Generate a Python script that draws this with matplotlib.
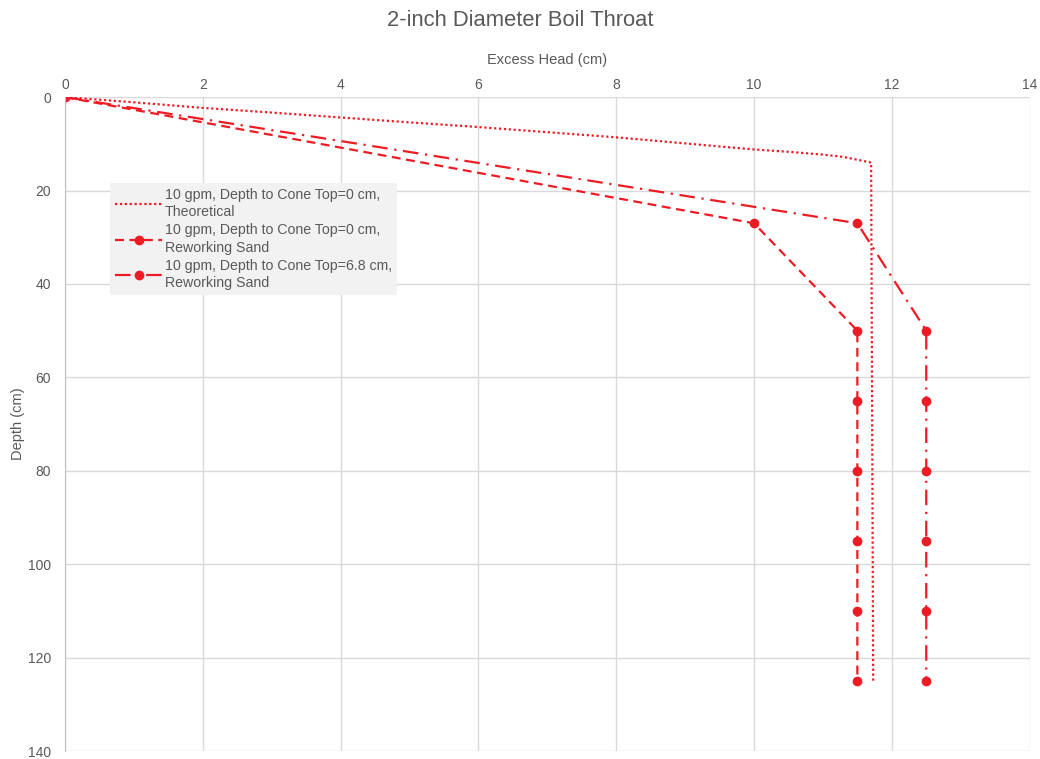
import matplotlib.pyplot as plt

# theoretical curve
theo_x = [0, 1, 2, 3, 4, 5, 6, 7, 8, 9, 10, 10.5, 11, 11.3, 11.5, 11.7, 11.73]
theo_y = [0, 1.1, 2.3, 3.3, 4.35, 5.4, 6.4, 7.5, 8.6, 9.9, 11.2, 11.7, 12.3, 12.8, 13.4, 14.0, 125]

rs0_x = [0, 10, 11.5, 11.5, 11.5, 11.5, 11.5, 11.5]
rs0_y = [0, 27, 50, 65, 80, 95, 110, 125]

rs68_x = [0, 11.5, 12.5, 12.5, 12.5, 12.5, 12.5, 12.5]
rs68_y = [0, 27, 50, 65, 80, 95, 110, 125]

labels = ['10 gpm, Depth to Cone Top=0 cm,\nTheoretical',
          '10 gpm, Depth to Cone Top=0 cm,\nReworking Sand',
          '10 gpm, Depth to Cone Top=6.8 cm,\nReworking Sand']

red = '#ED1C24'
gray = '#595959'

def main():
    plt.rcParams['font.family'] = ['Liberation Sans', 'DejaVu Sans']
    fig = plt.figure(figsize=(10.4, 7.59), dpi=100)
    ax = fig.add_axes([0.0625, 0.0105, 0.9275, 0.8615])

    ax.plot(theo_x, theo_y, color=red, linestyle=(0, (1, 1.2)), linewidth=1.6, label=labels[0])
    ax.plot(rs0_x, rs0_y, color=red, linestyle=(0, (4, 2.5)), linewidth=1.6,
            marker='o', markersize=6, label=labels[1])
    ax.plot(rs68_x, rs68_y, color=red, linestyle=(0, (7, 3, 1, 3)), linewidth=1.6,
            marker='o', markersize=6, label=labels[2])

    ax.set_xlim(0, 14)
    ax.set_ylim(140, 0)
    ax.set_xticks(range(0, 15, 2))
    ax.set_yticks(range(0, 141, 20))
    ax.xaxis.tick_top()
    ax.xaxis.set_label_position('top')
    ax.set_xlabel('Excess Head (cm)', fontsize=10.5, color=gray, labelpad=10)
    ax.set_ylabel('Depth (cm)', fontsize=10.5, color=gray, labelpad=2)
    ax.tick_params(length=0, labelsize=10, labelcolor=gray)
    ax.tick_params(axis='x', pad=4)
    ax.tick_params(axis='y', pad=10)
    ax.grid(True, color='#d9d9d9', linewidth=1)
    ax.set_axisbelow(True)
    for s in ['top', 'right', 'bottom']:
        ax.spines[s].set_visible(False)
    ax.spines['left'].set_color('#bfbfbf')

    leg = ax.legend(loc='upper left', bbox_to_anchor=(0.047, 0.869), fontsize=10.2,
                    frameon=True, fancybox=False, handlelength=3.3, labelspacing=0.3,
                    borderpad=0.35, handletextpad=0.2, borderaxespad=0)
    leg.get_frame().set_facecolor('#f2f2f2')
    leg.get_frame().set_edgecolor('none')
    leg.get_frame().set_alpha(1)
    for t in leg.get_texts():
        t.set_color(gray)
        t.set_linespacing(1.3)

    fig.suptitle('2-inch Diameter Boil Throat', y=0.987, fontsize=15.8, color=gray)
    fig.savefig('out.png', dpi=100)

if __name__ == "__main__":
    main()
